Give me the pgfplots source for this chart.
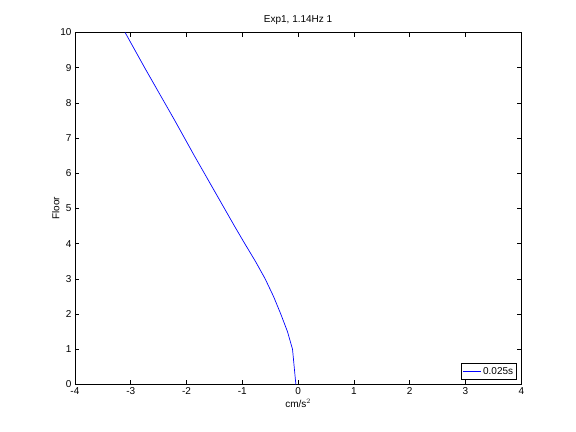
\documentclass[border=0pt]{standalone}
\usepackage{pgfplots}
\pgfplotsset{compat=1.18}
\usepackage{fontspec}
\setmainfont{Liberation Sans}
\begin{document}
\begin{tikzpicture}[x=1bp,y=1bp]
\path[use as bounding box] (-74.9,-47.5) rectangle (501.1,384.5);
\begin{axis}[
  at={(0,0)}, anchor=south west,
  scale only axis, width=446.4bp, height=352bp,
  xmin=-4, xmax=4, ymin=0, ymax=10,
  xtick={-4,-3,...,4}, ytick={0,1,...,10},
  tick align=inside, major tick length=4.5bp,
  tick style={black, line width=0.5pt},
  axis line style={line width=0.5pt},
  font=\fontsize{10bp}{12bp}\selectfont,
  /pgf/number format/assume math mode=true,
  tick label style={font=\fontsize{10bp}{12bp}\selectfont},
  title={Exp1, 1.14Hz 1},
  title style={yshift=-2bp},
  xlabel={cm/s$^2$},
  ylabel={Floor},
  xlabel style={yshift=3bp},
  ylabel style={yshift=-6bp},
  legend style={inner sep=1.5bp, at={(0.99,0.015)}, anchor=south east, legend cell align=left},
  legend image code/.code={\pgfsetstrokecolor{blue}\pgfsetlinewidth{0.7pt}\pgfpathmoveto{\pgfpoint{0bp}{0bp}}\pgfpathlineto{\pgfpoint{18bp}{0bp}}\pgfusepath{stroke}},
]
\addplot[draw=blue, line width=0.7pt] coordinates {
(-0.04,0) (-0.10,1) (-0.19,1.5) (-0.31,2) (-0.44,2.5) (-0.59,3) (-0.765,3.5) (-0.955,4) (-1.14,4.5) (-1.32,5) (-1.50,5.5) (-1.68,6) (-1.86,6.5) (-2.035,7) (-2.21,7.5) (-2.39,8) (-2.57,8.5) (-2.75,9) (-2.925,9.5) (-3.10,10)
};
\addlegendentry{0.025s}
\end{axis}
\end{tikzpicture}
\end{document}
